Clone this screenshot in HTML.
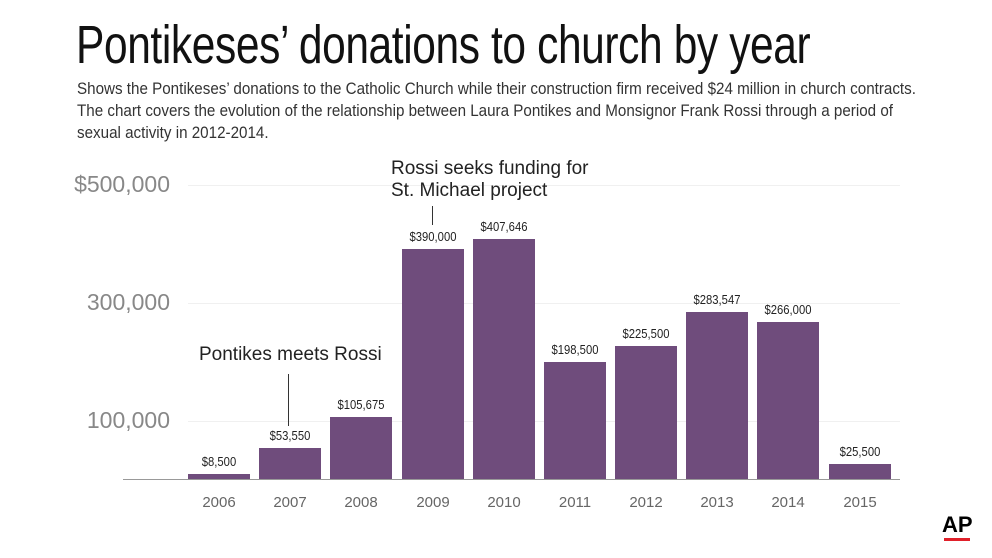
<!DOCTYPE html>
<html><head><style>
body{margin:0;width:992px;height:558px;background:#fff;overflow:hidden;position:relative;font-family:"Liberation Sans Narrow","Liberation Sans",sans-serif;}
.t{position:absolute;white-space:nowrap;transform-origin:0 0;}
.bar{position:absolute;background:#6f4c7c;width:62px;}
.v{position:absolute;width:80px;text-align:center;font-size:12.5px;color:#222;transform:scaleX(0.9);}
.x{position:absolute;width:62px;text-align:center;font-size:15px;color:#666;top:494px;}
.y{position:absolute;right:822px;font-size:23px;color:#888;}
.g{position:absolute;left:188px;width:712px;height:1px;background:#f0f0f0;}
</style></head><body>
<div class="t" style="left:76px;top:14px;font-size:54px;color:#111;letter-spacing:-0.5px;transform:scaleX(0.787)">Pontikeses’ donations to church by year</div>
<div class="t" style="left:77px;top:78px;font-size:16.5px;color:#333;line-height:22px;transform:scaleX(0.92)">Shows the Pontikeses’ donations to the Catholic Church while their construction firm received $24 million in church contracts.<br>The chart covers the evolution of the relationship between Laura Pontikes and Monsignor Frank Rossi through a period of<br>sexual activity in 2012-2014.</div>
<div class="g" style="top:185px"></div><div class="g" style="top:303px"></div><div class="g" style="top:421px"></div>
<div class="y" style="top:171px">$500,000</div>
<div class="y" style="top:289px">300,000</div>
<div class="y" style="top:407px">100,000</div>
<div style="position:absolute;left:123px;top:479px;width:777px;height:1px;background:#999"></div>
<div class="bar" style="left:188px;top:474px;height:5px"></div>
<div class="bar" style="left:259px;top:448px;height:31px"></div>
<div class="bar" style="left:330px;top:417px;height:62px"></div>
<div class="bar" style="left:402px;top:249px;height:230px"></div>
<div class="bar" style="left:473px;top:239px;height:240px"></div>
<div class="bar" style="left:544px;top:362px;height:117px"></div>
<div class="bar" style="left:615px;top:346px;height:133px"></div>
<div class="bar" style="left:686px;top:312px;height:167px"></div>
<div class="bar" style="left:757px;top:322px;height:157px"></div>
<div class="bar" style="left:829px;top:464px;height:15px"></div>
<div class="v" style="left:179px;top:455px">$8,500</div>
<div class="v" style="left:250px;top:429px">$53,550</div>
<div class="v" style="left:321px;top:398px">$105,675</div>
<div class="v" style="left:393px;top:230px">$390,000</div>
<div class="v" style="left:464px;top:220px">$407,646</div>
<div class="v" style="left:535px;top:343px">$198,500</div>
<div class="v" style="left:606px;top:327px">$225,500</div>
<div class="v" style="left:677px;top:293px">$283,547</div>
<div class="v" style="left:748px;top:303px">$266,000</div>
<div class="v" style="left:820px;top:445px">$25,500</div>
<div class="x" style="left:188px">2006</div><div class="x" style="left:259px">2007</div><div class="x" style="left:330px">2008</div><div class="x" style="left:402px">2009</div><div class="x" style="left:473px">2010</div><div class="x" style="left:544px">2011</div><div class="x" style="left:615px">2012</div><div class="x" style="left:686px">2013</div><div class="x" style="left:757px">2014</div><div class="x" style="left:829px">2015</div>
<div class="t" style="left:199px;top:344px;font-size:19px;color:#222">Pontikes meets Rossi</div>
<div style="position:absolute;left:288px;top:374px;width:1px;height:52px;background:#333"></div>
<div class="t" style="left:391px;top:158px;font-size:19px;color:#222;line-height:22px">Rossi seeks funding for<br>St. Michael project</div>
<div style="position:absolute;left:432px;top:206px;width:1px;height:19px;background:#333"></div>
<div class="t" style="left:942px;top:512px;font-size:22px;font-weight:bold;color:#000;font-family:'Liberation Sans',sans-serif">AP</div>
<div style="position:absolute;left:944px;top:538px;width:26px;height:3px;background:#e0202a"></div>
</body></html>
